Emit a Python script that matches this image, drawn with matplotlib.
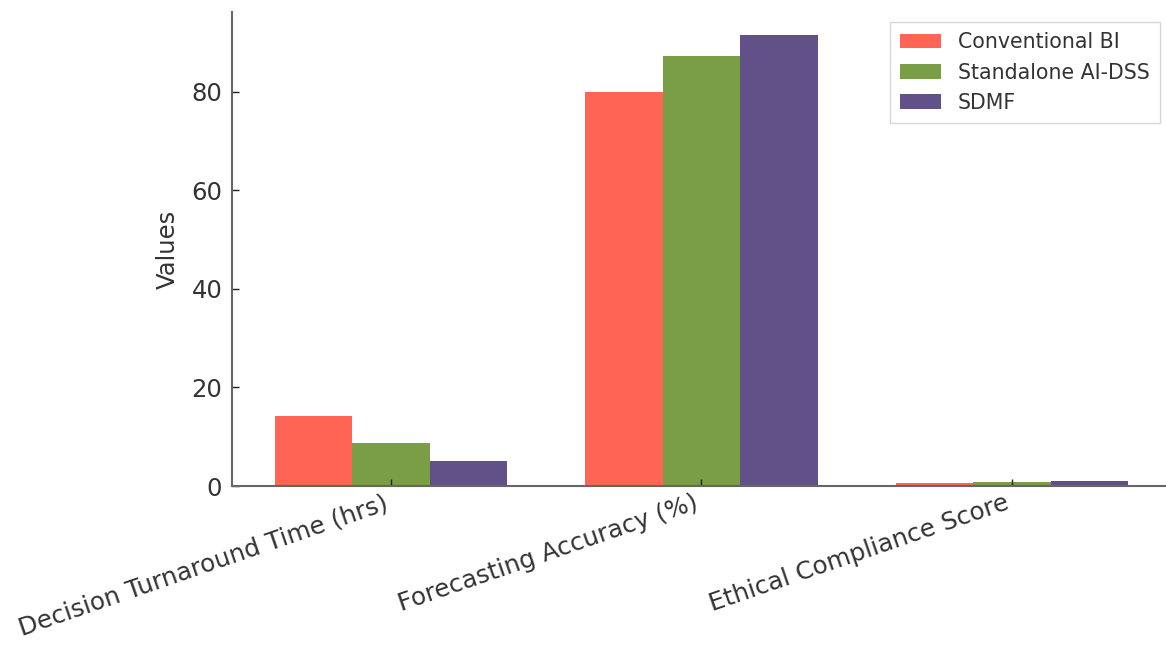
import numpy as np
import matplotlib
matplotlib.use("Agg")
import matplotlib.pyplot as plt

categories = ["Decision Turnaround Time (hrs)", "Forecasting Accuracy (%)", "Ethical Compliance Score"]
series_names = ["Conventional BI", "Standalone AI-DSS", "SDMF"]
conventional_bi = [14.2, 80.0, 0.65]
standalone_ai_dss = [8.7, 87.3, 0.78]
sdmf = [5.1, 91.6, 0.92]

colors = ["#FF6454", "#7A9E46", "#625089"]
text_color = "#333333"

fig = plt.figure(figsize=(11.66, 6.5), dpi=100)
ax = fig.add_axes([232 / 1166, 164 / 650, 939 / 1166, 474 / 650])

x = np.arange(len(categories))
width = 0.25
for i, (vals, name) in enumerate(zip([conventional_bi, standalone_ai_dss, sdmf], series_names)):
    ax.bar(x + (i - 1) * width, vals, width, label=name, color=colors[i])

ax.set_xticks(x)
ax.set_xticklabels(categories, rotation=19, ha="right", fontsize=17.8, color=text_color)
ax.set_yticks([0, 20, 40, 60, 80])
ax.tick_params(axis="y", labelsize=17.5, labelcolor=text_color, pad=7)
ax.tick_params(direction="in", length=5, width=1, color="#222222")
ax.set_ylabel("Values", fontsize=17.5, color=text_color, labelpad=8)

for side in ["top", "right"]:
    ax.spines[side].set_visible(False)
for side in ["left", "bottom"]:
    ax.spines[side].set_color("#666666")
    ax.spines[side].set_linewidth(1.5)

leg = ax.legend(loc="upper right", bbox_to_anchor=(0.988, 0.979), borderaxespad=0,
                fontsize=14.8, frameon=True, fancybox=False, edgecolor="#cccccc",
                handlelength=2.0, borderpad=0.5)
for t in leg.get_texts():
    t.set_color(text_color)

fig.savefig("out.png", dpi=100)
